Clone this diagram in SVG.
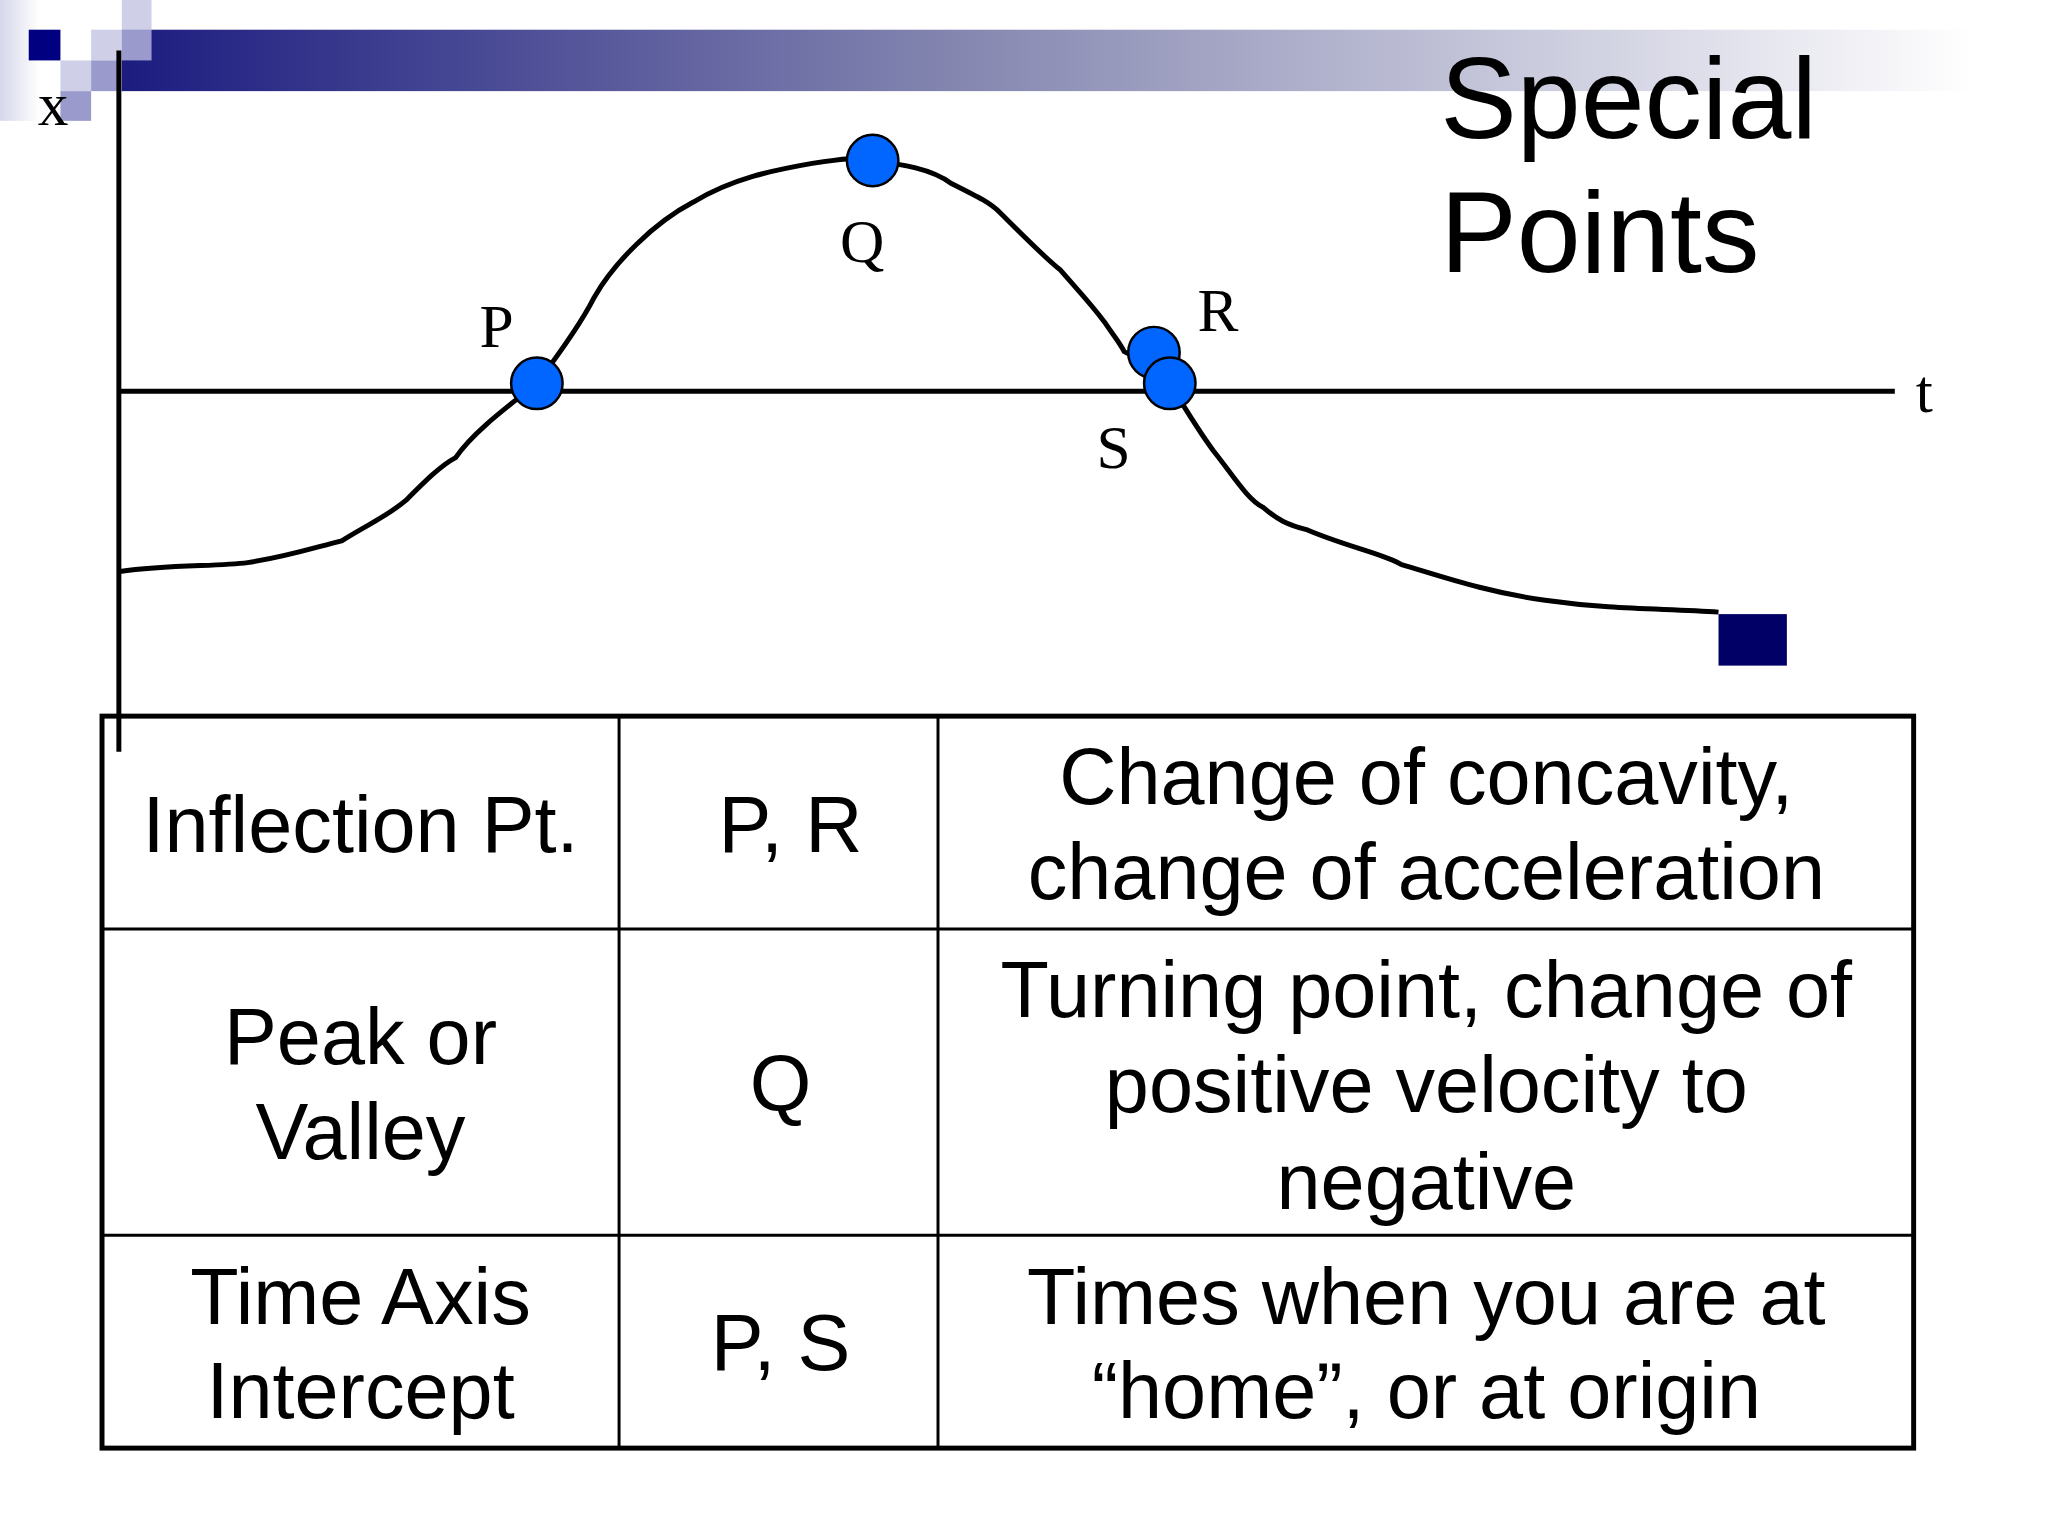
<svg xmlns="http://www.w3.org/2000/svg" width="2048" height="1536" viewBox="0 0 2048 1536">
<defs>
<linearGradient id="bar" x1="0" y1="0" x2="1" y2="0">
<stop offset="0" stop-color="#1c1c80"/><stop offset="0.45" stop-color="#8486b0"/><stop offset="1" stop-color="#ffffff"/>
</linearGradient>
<linearGradient id="side" x1="0" y1="0" x2="1" y2="0">
<stop offset="0" stop-color="#d6d7ea"/><stop offset="1" stop-color="#ffffff"/>
</linearGradient>
<style>
.lbl{font-family:"Liberation Serif",serif;font-size:62px;fill:#000}
.cell{font-family:"Liberation Sans",Arial,sans-serif;font-size:80px;fill:#000;text-anchor:middle}
.pt{fill:#0066ff;stroke:#000;stroke-width:2.5}
.ln{stroke:#000;fill:none}
</style>
</defs>
<rect width="2048" height="1536" fill="#fff"/>
<g transform="scale(0.9905)">
<g id="decor">
<rect x="0" y="0" width="40" height="122" fill="url(#side)"/>
<rect x="123" y="30" width="1870" height="62" fill="url(#bar)"/>
<rect x="29" y="30" width="32" height="31" fill="#000080"/>
<rect x="123" y="0" width="30" height="30" fill="#cfd0e8"/>
<rect x="92" y="30" width="31" height="31" fill="#cfd0e8"/>
<rect x="123" y="30" width="30" height="31" fill="#9a9bcc"/>
<rect x="61" y="61" width="31" height="31" fill="#cfd0e8"/>
<rect x="92" y="61" width="31" height="31" fill="#9a9bcc"/>
<rect x="61" y="92" width="31" height="30" fill="#9a9bcc"/>
<rect x="1735" y="620" width="69" height="52" fill="#000066"/>
</g>
<g id="title">
<text x="1454" y="139" font-family="Liberation Sans,Arial,sans-serif" font-size="116">Special</text>
<text x="1454" y="275" font-family="Liberation Sans,Arial,sans-serif" font-size="116">Points</text>
</g>
<g id="connectors">
<line class="ln" x1="120" y1="51" x2="120" y2="759" stroke-width="5"/>
<line class="ln" x1="120" y1="395" x2="1913" y2="395" stroke-width="5"/>
<path class="ln" stroke-width="5" d="M121,577 C170,570 220,572 250,568 C290,562 320,552 345,546 C370,530 390,522 410,505 C430,485 445,470 460,462 C475,440 500,420 542,387 C570,350 590,320 600,300 C620,265 660,225 700,204 C740,180 780,172 820,165 C850,160 870,158 881,162 C910,166 940,170 960,185 C990,200 1000,205 1010,215 C1040,245 1060,265 1070,272 C1090,295 1100,305 1115,325 C1125,340 1130,345 1135,355 C1150,362 1160,375 1181,387 C1195,410 1210,435 1225,455 C1245,480 1260,505 1275,512 C1290,525 1300,530 1320,535 C1360,552 1400,560 1415,570 C1450,580 1500,598 1560,606 C1630,616 1680,614 1735,618"/>
</g>
<g id="points">
<circle class="pt" cx="542" cy="387" r="26"/>
<circle class="pt" cx="881" cy="162" r="26"/>
<circle class="pt" cx="1165" cy="356" r="26"/>
<circle class="pt" cx="1181" cy="387" r="26"/>
<text class="lbl" x="38" y="126">x</text>
<text class="lbl" x="1934" y="416">t</text>
<text class="lbl" x="484" y="350">P</text>
<text class="lbl" x="848" y="265">Q</text>
<text class="lbl" x="1209" y="334">R</text>
<text class="lbl" x="1107" y="472">S</text>
</g>
<g id="table">
<rect x="103" y="723" width="1829" height="739" fill="none" stroke="#000" stroke-width="5"/>
<line class="ln" stroke-width="3" x1="625" y1="723" x2="625" y2="1462"/>
<line class="ln" stroke-width="3" x1="947" y1="723" x2="947" y2="1462"/>
<line class="ln" stroke-width="3" x1="103" y1="938" x2="1932" y2="938"/>
<line class="ln" stroke-width="3" x1="103" y1="1247" x2="1932" y2="1247"/>
<text class="cell" x="364" y="860">Inflection Pt.</text>
<text class="cell" x="798" y="860">P, R</text>
<text class="cell" x="1440" y="812">Change of concavity,</text>
<text class="cell" x="1440" y="908">change of acceleration</text>
<text class="cell" x="364" y="1074">Peak or</text>
<text class="cell" x="364" y="1170">Valley</text>
<text class="cell" x="788" y="1122">Q</text>
<text class="cell" x="1440" y="1027">Turning point, change of</text>
<text class="cell" x="1440" y="1123">positive velocity to</text>
<text class="cell" x="1440" y="1221">negative</text>
<text class="cell" x="364" y="1337">Time Axis</text>
<text class="cell" x="364" y="1432">Intercept</text>
<text class="cell" x="788" y="1383">P, S</text>
<text class="cell" x="1440" y="1337">Times when you are at</text>
<text class="cell" x="1440" y="1432">“home”, or at origin</text>
</g>
</g>
</svg>
